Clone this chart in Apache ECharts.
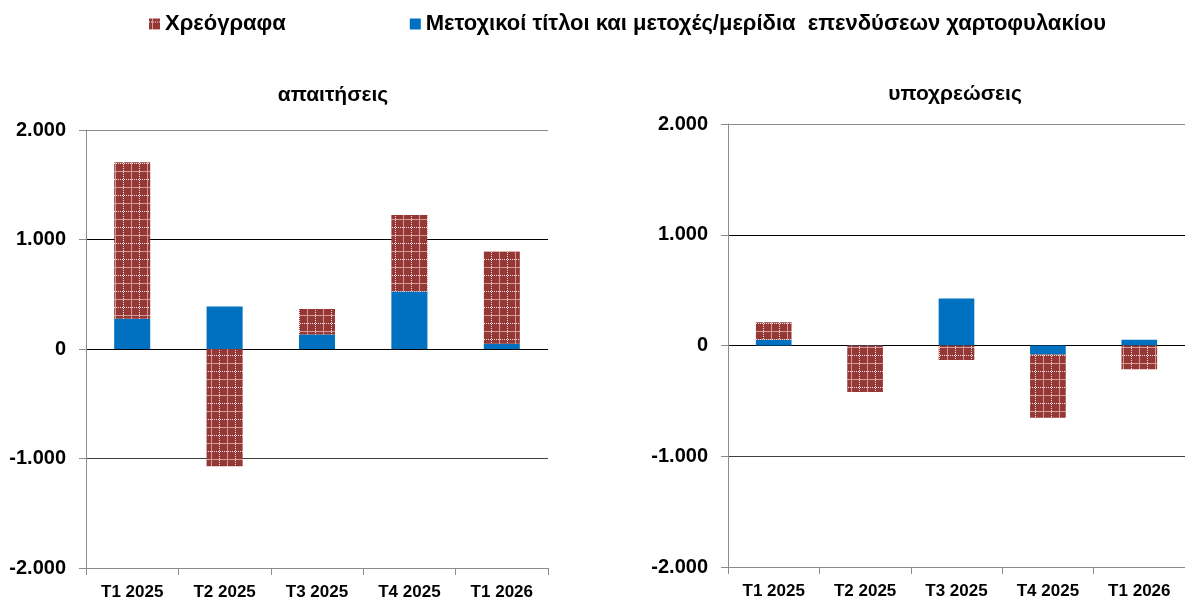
<!DOCTYPE html>
<html>
<head>
<meta charset="utf-8">
<script src="https://cdn.jsdelivr.net/npm/echarts@6/dist/echarts.min.js"></script>
<style>
  html, body { margin: 0; padding: 0; background: #fff; }
  #chart { width: 1185px; height: 601px; }
</style>
</head>
<body>
<div id="chart"></div>
<script>
// Quarters shown on both panels
const categories = ['T1 2025', 'T2 2025', 'T3 2025', 'T4 2025', 'T1 2026'];

// Series names
const nameSecurities = 'Χρεόγραφα';
const nameEquity = 'Μετοχικοί τίτλοι και μετοχές/μερίδια  επενδύσεων χαρτοφυλακίου';

// Panel titles
const titleClaims = 'απαιτήσεις';
const titleLiabilities = 'υποχρεώσεις';

// Claims (απαιτήσεις)
const claimsSecurities = [1430, -1070, 232, 699, 845];
const claimsEquity = [276, 388, 133, 525, 48];

// Liabilities (υποχρεώσεις)
const liabSecurities = [159, -419, -130, -572, -214];
const liabEquity = [51, 5, 424, -81, 51];

// Value axis range
const yMin = -2000, yMax = 2000, yStep = 1000;

const RED = '#953735';
const BLUE = '#0070c0';

// Checked fill for the debt-securities bars
function checkTile() {
  const c = document.createElement('canvas');
  c.width = 16; c.height = 16;
  const g = c.getContext('2d');
  g.fillStyle = RED;
  g.fillRect(0, 0, 16, 16);
  g.fillStyle = '#d49a98';
  g.fillRect(3, 0, 1, 16);
  g.fillRect(0, 11, 16, 1);
  g.fillStyle = '#f4e4e4';
  for (let i = 0; i < 16; i += 2) {
    g.fillRect(11, i, 1, 1);
    g.fillRect(i, 3, 1, 1);
  }
  return c;
}
const checkFill = { image: checkTile(), repeat: 'repeat' };

const fontFam = '"Liberation Sans", Arial, sans-serif';

function fmt(v) {
  const s = Math.abs(v).toString().replace(/\B(?=(\d{3})+(?!\d))/g, '.');
  return (v < 0 ? '-' : '') + s;
}

function yAxis(gridIndex) {
  return {
    type: 'value', gridIndex,
    min: yMin, max: yMax, interval: yStep,
    axisLine: { show: true, lineStyle: { color: '#8c8c8c', width: 1 } },
    axisTick: { show: true, length: 7, lineStyle: { color: '#8c8c8c' } },
    axisLabel: {
      formatter: fmt, color: '#000', fontWeight: 'bold',
      fontSize: 20, fontFamily: fontFam, margin: 20
    },
    splitLine: {
      show: true,
      lineStyle: { color: ['#8c8c8c', '#404040', '#000', '#000', '#8c8c8c'], width: 1 }
    }
  };
}

function xAxis(gridIndex) {
  return {
    type: 'category', gridIndex, data: categories,
    position: 'bottom',
    axisLine: { onZero: false, lineStyle: { color: '#8c8c8c', width: 1 } },
    axisTick: { show: true, length: 7, lineStyle: { color: '#8c8c8c' } },
    axisLabel: {
      color: '#000', fontWeight: 'bold', fontSize: 17,
      fontFamily: fontFam, margin: 16
    }
  };
}

function bars(name, data, idx, color, stack) {
  return {
    name, type: 'bar', data, xAxisIndex: idx, yAxisIndex: idx,
    stack, barWidth: '39%', itemStyle: { color },
    emphasis: { disabled: true }, animation: false
  };
}

const chart = echarts.init(document.getElementById('chart'), null, { renderer: 'canvas' });
chart.setOption({
  animation: false,
  backgroundColor: '#fff',
  title: [
    { text: titleClaims, left: 328, top: 80, textAlign: 'center',
      textStyle: { fontSize: 21, fontWeight: 'bold', fontFamily: fontFam, color: '#000' } },
    { text: titleLiabilities, left: 950, top: 79, textAlign: 'center',
      textStyle: { fontSize: 21, fontWeight: 'bold', fontFamily: fontFam, color: '#000' } }
  ],
  legend: {
    data: [nameSecurities, nameEquity],
    left: 144, top: 8,
    itemWidth: 11, itemHeight: 11, itemGap: 124,
    icon: 'rect', selectedMode: false,
    textStyle: { fontSize: 22, fontWeight: 'bold', fontFamily: fontFam, color: '#000' }
  },
  grid: [
    { left: 86, right: 637, top: 130, bottom: 32 },
    { left: 728, right: 0, top: 124, bottom: 34 }
  ],
  xAxis: [xAxis(0), xAxis(1)],
  yAxis: [yAxis(0), yAxis(1)],
  series: [
    bars(nameEquity, claimsEquity, 0, BLUE, 'a'),
    bars(nameSecurities, claimsSecurities, 0, checkFill, 'a'),
    bars(nameEquity, liabEquity, 1, BLUE, 'b'),
    bars(nameSecurities, liabSecurities, 1, checkFill, 'b')
  ]
});
</script>
</body>
</html>
